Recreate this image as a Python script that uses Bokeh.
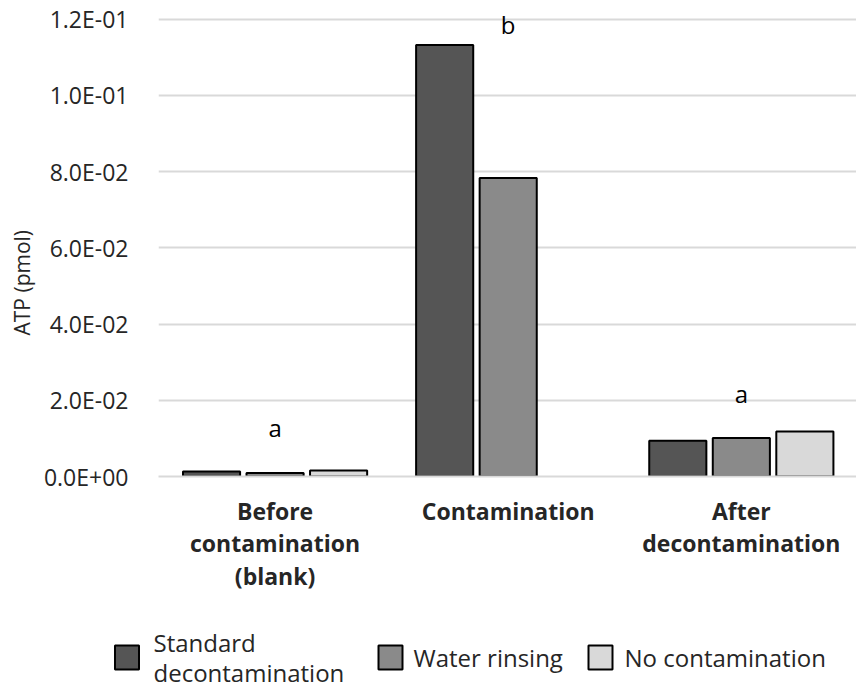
from bokeh.plotting import figure
from bokeh.models import Range1d, FixedTicker, Title
from bokeh.layouts import column, row
from bokeh.core.properties import value
from bokeh.embed import file_html
from bokeh.resources import INLINE

categories = ["Before\ncontamination\n(blank)", "Contamination", "After\ndecontamination"]
series = ["Standard\ndecontamination", "Water rinsing", "No contamination"]
standard = [0.0013, 0.1132, 0.0094]
water = [0.0009, 0.0783, 0.0101]
no_contamination = [0.0016, float("nan"), 0.0118]
letters = ["a", "b", "a"]
letter_y = [0.0128, 0.1187, 0.0218]
y_ticks = [0.0, 0.02, 0.04, 0.06, 0.08, 0.10, 0.12]
y_tick_labels = ["0.0E+00", "2.0E-02", "4.0E-02", "6.0E-02", "8.0E-02", "1.0E-01", "1.2E-01"]
colors = ["#555555", "#8a8a8a", "#d9d9d9"]

FONT = "Open Sans"
TXT = "#262626"

p = figure(width=856, height=610, output_backend="svg", toolbar_location=None,
           x_range=Range1d(0, 2.994), y_range=Range1d(0, 0.12487),
           min_border_left=158, min_border_right=0, min_border_top=0, min_border_bottom=134)
p.outline_line_color = None
p.background_fill_color = "white"

centers = [i + 0.5 for i in range(len(categories))]
offsets = [-0.2725, 0.0, 0.2725]
bar_w = 0.245
for vals, off, col in zip([standard, water, no_contamination], offsets, colors):
    p.vbar(x=[c + off for c in centers], top=vals, bottom=0, width=bar_w,
           fill_color=col, line_color="black", line_width=2)

p.text(x=centers, y=letter_y, text=letters, text_align="center", text_baseline="middle",
       text_font=value(FONT), text_font_size="24px", text_color="black")

# y axis
ya = p.yaxis[0]
ya.ticker = FixedTicker(ticks=y_ticks)
ya.major_label_overrides = {t: l for t, l in zip(y_ticks, y_tick_labels)}
ya.axis_line_color = None
ya.major_tick_line_color = None
ya.minor_tick_line_color = None
ya.major_label_text_font = FONT
ya.major_label_text_font_size = "23px"
ya.major_label_text_color = TXT
ya.major_label_standoff = 24

ytitle = Title(text="ATP (pmol)", align="left", offset=141, standoff=10,
               text_font=FONT, text_font_size="21px", text_font_style="normal",
               text_color=TXT)
p.add_layout(ytitle, "left")

# x axis
xa = p.xaxis[0]
xa.ticker = FixedTicker(ticks=centers)
xa.major_label_overrides = {c: l for c, l in zip(centers, categories)}
xa.axis_line_color = "#d9d9d9"
xa.axis_line_width = 2
xa.major_tick_line_color = None
xa.minor_tick_line_color = None
xa.major_label_text_font = FONT
xa.major_label_text_font_size = "23px"
xa.major_label_text_font_style = "bold"
xa.major_label_text_color = TXT
xa.major_label_text_line_height = 1.02
xa.major_label_standoff = 12

p.xgrid.grid_line_color = None
p.ygrid.ticker = FixedTicker(ticks=y_ticks)
p.ygrid.grid_line_color = "#d9d9d9"
p.ygrid.grid_line_width = 2

# legend strip (its own small figure below the chart, in pixel-like units)
leg = figure(width=856, height=81, output_backend="svg", toolbar_location=None,
             x_range=Range1d(0, 856), y_range=Range1d(81, 0),
             x_axis_location=None, y_axis_location=None,
             min_border=0)
leg.outline_line_color = None
leg.xgrid.visible = False
leg.ygrid.visible = False
swatch_x = [126.5, 390, 600]
label_x = [153, 413, 624]
row_y = [47, 47, 47]
leg.rect(x=swatch_x, y=row_y, width=24, height=24, fill_color=colors,
         line_color="black", line_width=2)
leg.text(x=label_x, y=[47, 47, 47], text=series, text_align="left", text_baseline="middle",
         text_font=value(FONT), text_font_size="24px", text_color=TXT,
         text_line_height=0.93)

layout = column(p, row(leg), spacing=0)
open("out.html", "w").write(file_html(layout, INLINE))
